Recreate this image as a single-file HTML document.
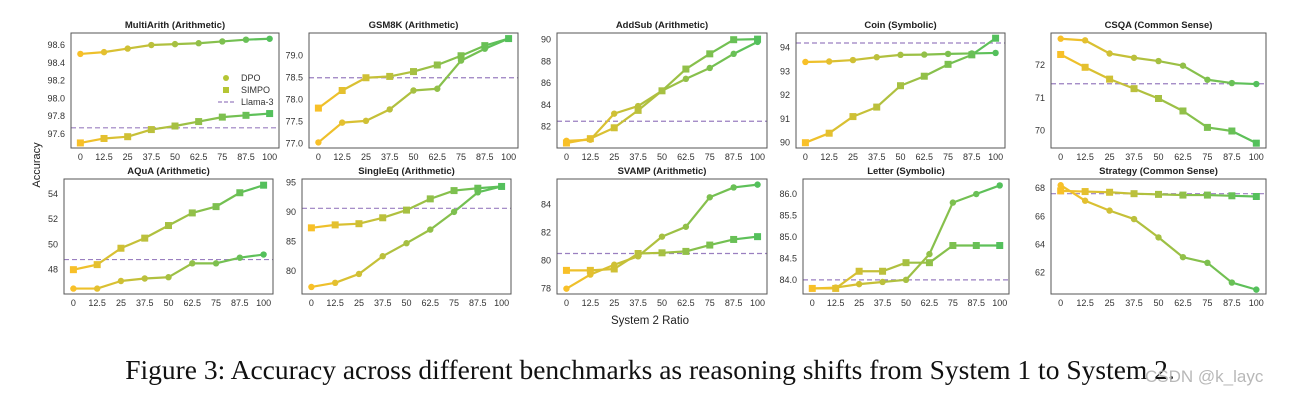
<!DOCTYPE html>
<html><head><meta charset="utf-8">
<style>
body{margin:0;background:#fff;width:1307px;height:402px;overflow:hidden;font-family:"Liberation Sans",sans-serif}
svg{position:absolute;left:0;top:0}
.cap{position:absolute;left:0;width:1300px;top:354px;text-align:center;font-family:"Liberation Serif",serif;font-size:27.5px;color:#111;white-space:nowrap}
.wm{position:absolute;left:1145px;top:367px;font-size:17px;color:#b8b8b8}
</style></head><body>
<svg id="chart" width="1307" height="402"></svg>
<div class="cap">Figure 3: Accuracy across different benchmarks as reasoning shifts from System 1 to System 2.</div>
<div class="wm">CSDN @k_layc</div>
<script>
const categories=["0","12.5","25","37.5","50","62.5","75","87.5","100"];
const titles=["MultiArith (Arithmetic)","GSM8K (Arithmetic)","AddSub (Arithmetic)","Coin (Symbolic)","CSQA (Common Sense)","AQuA (Arithmetic)","SingleEq (Arithmetic)","SVAMP (Arithmetic)","Letter (Symbolic)","Strategy (Common Sense)"];
const dpo=[
[98.50,98.52,98.56,98.60,98.61,98.62,98.64,98.66,98.67],
[77.02,77.47,77.51,77.77,78.20,78.24,78.88,79.15,79.38],
[80.7,80.8,83.2,83.9,85.3,86.4,87.4,88.7,89.8],
[93.4,93.42,93.48,93.6,93.7,93.71,93.74,93.76,93.78],
[72.8,72.75,72.35,72.22,72.12,71.98,71.55,71.45,71.42],
[46.5,46.5,47.1,47.3,47.4,48.5,48.5,48.95,49.2],
[77.3,78.0,79.5,82.5,84.7,87.0,90.0,93.3,94.3],
[78.0,79.0,79.7,80.3,81.7,82.4,84.5,85.2,85.4],
[83.8,83.82,83.9,83.95,84.0,84.6,85.8,86.0,86.2],
[68.2,67.1,66.4,65.8,64.5,63.1,62.7,61.3,60.8]];
const simpo=[
[97.50,97.55,97.57,97.65,97.69,97.74,97.79,97.81,97.83],
[77.80,78.20,78.49,78.52,78.63,78.78,78.99,79.22,79.38],
[80.5,80.9,81.9,83.5,85.3,87.3,88.7,90.0,90.05],
[90.0,90.4,91.1,91.5,92.4,92.8,93.3,93.7,94.4],
[72.32,71.93,71.57,71.28,70.98,70.6,70.1,69.99,69.62],
[48.0,48.4,49.7,50.5,51.5,52.5,53.0,54.1,54.7],
[87.3,87.8,88.0,89.0,90.3,92.2,93.6,94.0,94.3],
[79.3,79.3,79.4,80.5,80.55,80.65,81.1,81.5,81.7],
[83.8,83.8,84.2,84.2,84.4,84.4,84.8,84.8,84.8],
[67.8,67.75,67.7,67.6,67.55,67.5,67.5,67.45,67.4]];
const llama=[97.67,78.49,82.5,94.2,71.43,48.8,90.6,80.5,84.0,67.6];
const yTicks=[
["97.6","97.8","98.0","98.2","98.4","98.6"],
["77.0","77.5","78.0","78.5","79.0"],
["82","84","86","88","90"],
["90","91","92","93","94"],
["70","71","72"],
["48","50","52","54"],
["80","85","90","95"],
["78","80","82","84"],
["84.0","84.5","85.0","85.5","86.0"],
["62","64","66","68"]];
const yDomains=[[97.443,98.735],[76.893,79.507],[80.04,90.616],[89.777,94.62],[69.473,72.974],[46.07,55.19],[76.11,95.56],[77.62,85.8],[83.67,86.35],[60.49,68.64]];
const boxes=[[71,33,279,148],[309,33,518,148],[557,33,767,148],[796,33,1005,148],[1051,33,1266,148],
[64,179,273,294],[302,179,511,294],[557,179,767,294],[803,179,1009,294],[1051,179,1266,294]];
const svg=document.getElementById('chart');const NS="http://www.w3.org/2000/svg";
function mk(t,a,p){const e=document.createElementNS(NS,t);for(const k in a)e.setAttribute(k,a[k]);(p||svg).appendChild(e);return e;}
function col(t){const a=[248,192,40],b=[84,192,92];return `rgb(${a.map((v,i)=>Math.round(v+(b[i]-v)*t)).join(',')})`;}
boxes.forEach((bx,p)=>{
 const [x0,y0,x1,y1]=bx;const g=mk('g',{});
 
 
 const pad=(x1-x0)*0.045;
 const xs=i=>x0+pad+i*(x1-x0-2*pad)/(categories.length-1);
 const [d0,d1]=yDomains[p];const ys=v=>y1-(v-d0)/(d1-d0)*(y1-y0);
 const t=mk('text',{x:(x0+x1)/2,y:y0-5,'text-anchor':'middle','font-size':9.5,'font-weight':'bold',fill:'#222'},g);t.textContent=titles[p];
 
 categories.forEach((c,i)=>{const e=mk('text',{x:xs(i),y:y1+12,'text-anchor':'middle','font-size':9,fill:'#333'},g);e.textContent=c;
  });
 yTicks[p].forEach(s=>{const e=mk('text',{x:x0-6,y:ys(parseFloat(s))+3,'text-anchor':'end','font-size':9,fill:'#333'},g);e.textContent=s;
  });
 const ll=mk('line',{x1:x0,x2:x1,y1:ys(llama[p]),y2:ys(llama[p]),stroke:'#9a7fc0','stroke-width':1.2,'stroke-dasharray':'5,3'},g);
 
 [dpo[p],simpo[p]].forEach((ser,si)=>{
  for(let i=0;i<ser.length-1;i++){const l=mk('line',{x1:xs(i),y1:ys(ser[i]),x2:xs(i+1),y2:ys(ser[i+1]),stroke:col((i+0.5)/8),'stroke-width':2.2},g);
   }
  ser.forEach((v,i)=>{let m;if(si===0)m=mk('circle',{cx:xs(i),cy:ys(v),r:3.2,fill:col(i/8)},g);
   else m=mk('rect',{x:xs(i)-3.5,y:ys(v)-3.5,width:7,height:7,fill:col(i/8)},g);
   });
 });
 const r=mk('rect',{x:x0,y:y0,width:x1-x0,height:y1-y0,fill:'none',stroke:'#555','stroke-width':1},g);
 
});
const lg=mk('g',{});
mk('circle',{cx:226,cy:78,r:3,fill:'#b5c534'},lg);
mk('rect',{x:223,y:87,width:6,height:6,fill:'#b5c534'},lg);
mk('line',{x1:218,x2:234,y1:102,y2:102,stroke:'#9a7fc0','stroke-width':1.2,'stroke-dasharray':'4,2'},lg);
[["DPO",81],["SIMPO",93],["Llama-3",105]].forEach(([s,y])=>{const e=mk('text',{x:241,y:y,'font-size':9,fill:'#333'},lg);e.textContent=s;
 });
const yl=mk('text',{x:40,y:165,'text-anchor':'middle','font-size':11,fill:'#222',transform:'rotate(-90 40 165)'});yl.textContent='Accuracy';

const xl=mk('text',{x:650,y:324,'text-anchor':'middle','font-size':11.5,fill:'#222'});xl.textContent='System 2 Ratio';

</script>
</body></html>
